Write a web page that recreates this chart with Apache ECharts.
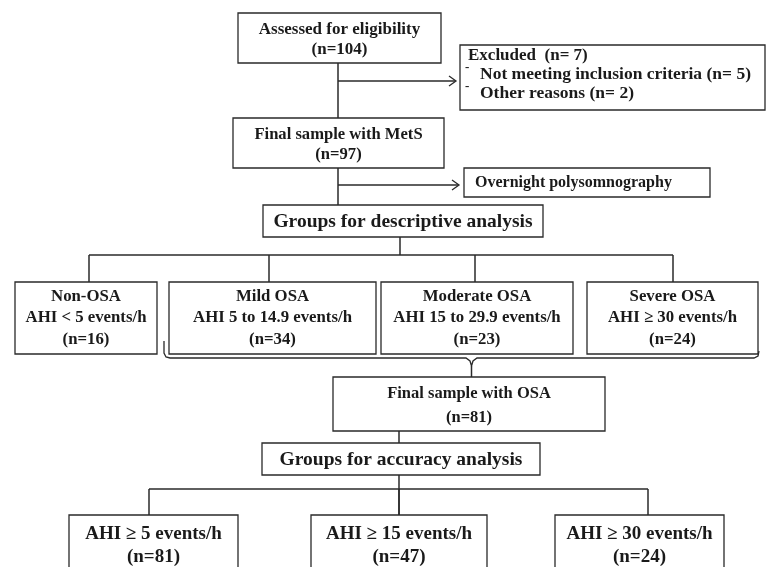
<!DOCTYPE html>
<html>
<head>
<meta charset="utf-8">
<script src="https://cdn.jsdelivr.net/npm/echarts@6/dist/echarts.min.js"></script>
<style>html,body{margin:0;padding:0;background:#fff}#chart{width:767px;height:567px}</style>
</head>
<body>
<div id="chart"></div>
<script>
// ---- data ----
const assessedLabel = 'Assessed for eligibility';
const assessedCount = 104;
const excludedLabel = 'Excluded  (n= 7)';
const excludedReasons = ['Not meeting inclusion criteria (n= 5)', 'Other reasons (n= 2)'];
const metsLabel = 'Final sample with MetS';
const metsCount = 97;
const psgLabel = 'Overnight polysomnography';
const descHeader = 'Groups for descriptive analysis';
const descGroups = ['Non-OSA', 'Mild OSA', 'Moderate OSA', 'Severe OSA'];
const descRanges = ['AHI < 5 events/h', 'AHI 5 to 14.9 events/h', 'AHI 15 to 29.9 events/h', 'AHI \u2265 30 events/h'];
const descCounts = [16, 34, 23, 24];
const osaLabel = 'Final sample with OSA';
const osaCount = 81;
const accHeader = 'Groups for accuracy analysis';
const accRanges = ['AHI \u2265 5 events/h', 'AHI \u2265 15 events/h', 'AHI \u2265 30 events/h'];
const accCounts = [81, 47, 24];

// ---- layout ----
const FONT = '"Liberation Serif","Times New Roman",serif';
const INK = '#1a1a1a';
const LINE = '#2a2a2a';
const els = [];
function box(x1, y1, x2, y2) {
  els.push({type:'rect', shape:{x:x1, y:y1, width:x2-x1, height:y2-y1},
    style:{fill:'#fff', stroke:LINE, lineWidth:1.3}});
}
function txt(s, x, y, size, align) {
  els.push({type:'text', style:{text:s, x:x, y:y, fontFamily:FONT, fontSize:size,
    fontWeight:'bold', fill:INK, align:align||'center', verticalAlign:'middle'}, z:10});
}
function pl(points, w) {
  els.push({type:'polyline', shape:{points:points}, style:{stroke:LINE, lineWidth:w||1.5, fill:null}});
}
function arrowHead(x, y) {
  pl([[x-7, y-5], [x, y], [x-7, y+5]], 1.3);
}
const n = v => '(n=' + v + ')';

// top
box(238, 13, 441, 63);
txt(assessedLabel, 339.5, 30, 17);
txt(n(assessedCount), 339.5, 50, 17);
pl([[338, 63], [338, 118]]);
pl([[338, 81], [455, 81]]);
arrowHead(456, 81);
box(460, 45, 765, 110);
txt(excludedLabel, 468, 56, 17, 'left');
excludedReasons.forEach((r, i) => {
  txt('-', 465, 68 + i * 19, 13, 'left');
  txt(r, 480, 74 + i * 19, 17.5, 'left');
});
box(233, 118, 444, 168);
txt(metsLabel, 338.5, 135, 16.6);
txt(n(metsCount), 338.5, 155, 16.6);
pl([[338, 168], [338, 205]]);
pl([[338, 185], [458, 185]]);
arrowHead(459, 185);
box(464, 168, 710, 197);
txt(psgLabel, 475, 183, 16, 'left');
box(263, 205, 543, 237);
txt(descHeader, 403, 222, 19.5);

// descriptive groups
const descBoxes = [[15, 157], [169, 376], [381, 573], [587, 758]];
const descDrops = [89, 269, 475, 673];
pl([[400, 237], [400, 255]]);
pl([[descDrops[0], 255], [descDrops[3], 255]]);
descDrops.forEach(x => pl([[x, 255], [x, 282]]));
descGroups.forEach((g, i) => {
  const [x1, x2] = descBoxes[i];
  const cx = (x1 + x2) / 2;
  box(x1, 282, x2, 354);
  txt(g, cx, 297, 16.8);
  txt(descRanges[i], cx, 318, 16.8);
  txt(n(descCounts[i]), cx, 340, 16.8);
});

// bracket
pl([[164, 341], [164, 353], [166, 357], [170, 358], [466, 358], [470, 361], [471.5, 366],
    [473, 361], [477, 358], [754, 358], [758, 356], [759, 351]], 1.3);
pl([[471.5, 366], [471.5, 377]]);

box(333, 377, 605, 431);
txt(osaLabel, 469, 394, 16.5);
txt(n(osaCount), 469, 418, 16.5);
pl([[399, 431], [399, 443]]);
box(262, 443, 540, 475);
txt(accHeader, 401, 460, 19.5);

// accuracy groups
const accBoxes = [[69, 238], [311, 487], [555, 724]];
const accDrops = [149, 399, 648];
pl([[399, 475], [399, 515]]);
pl([[accDrops[0], 489], [accDrops[2], 489]]);
accDrops.forEach(x => pl([[x, 489], [x, 515]]));
accRanges.forEach((r, i) => {
  const [x1, x2] = accBoxes[i];
  const cx = (x1 + x2) / 2;
  box(x1, 515, x2, 600);
  txt(r, cx, 534, 19);
  txt(n(accCounts[i]), cx, 557, 19);
});

const chart = echarts.init(document.getElementById('chart'), null, {renderer:'canvas'});
chart.setOption({backgroundColor:'#fff', animation:false, graphic:{elements:els}});
</script>
</body>
</html>
